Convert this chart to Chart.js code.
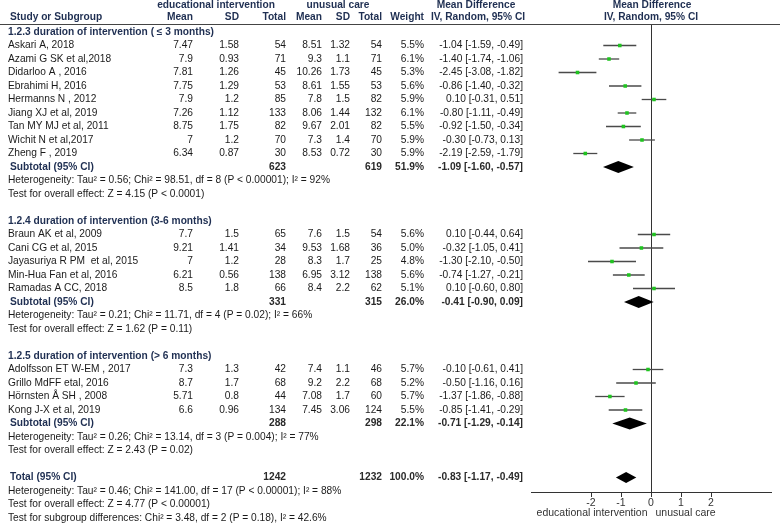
<!DOCTYPE html>
<html><head><meta charset="utf-8">
<script src="https://cdn.jsdelivr.net/npm/chart.js@4.4.0/dist/chart.umd.min.js"></script>
<style>html,body{margin:0;padding:0;background:#fff}#wrap{width:780px;height:526px}</style>
</head><body><div id="wrap"><canvas id="c" width="780" height="526"></canvas></div>
<script>
const studies = ["Askari A, 2018","Azami G SK et al,2018","Didarloo A , 2016","Ebrahimi H, 2016","Hermanns N , 2012","Jiang XJ et al, 2019","Tan MY MJ et al, 2011","Wichit N et al,2017","Zheng F , 2019","Braun AK et al, 2009","Cani CG et al, 2015","Jayasuriya R PM  et al, 2015","Min-Hua Fan et al, 2016","Ramadas A CC, 2018","Adolfsson ET W-EM , 2017","Grillo MdFF etal, 2016","Hörnsten Å SH , 2008","Kong J-X et al, 2019"];
const studyGroup = [0,0,0,0,0,0,0,0,0,1,1,1,1,1,2,2,2,2];
const eduMean = ["7.47","7.9","7.81","7.75","7.9","7.26","8.75","7","6.34","7.7","9.21","7","6.21","8.5","7.3","8.7","5.71","6.6"];
const eduSD = ["1.58","0.93","1.26","1.29","1.2","1.12","1.75","1.2","0.87","1.5","1.41","1.2","0.56","1.8","1.3","1.7","0.8","0.96"];
const eduN = [54,71,45,53,85,133,82,70,30,65,34,28,138,66,42,68,44,134];
const ctlMean = ["8.51","9.3","10.26","8.61","7.8","8.06","9.67","7.3","8.53","7.6","9.53","8.3","6.95","8.4","7.4","9.2","7.08","7.45"];
const ctlSD = ["1.32","1.1","1.73","1.55","1.5","1.44","2.01","1.4","0.72","1.5","1.68","1.7","3.12","2.2","1.1","2.2","1.7","3.06"];
const ctlN = [54,71,45,53,82,132,82,70,30,54,36,25,138,62,46,68,60,124];
const weight = ["5.5%","6.1%","5.3%","5.6%","5.9%","6.1%","5.5%","5.9%","5.9%","5.6%","5.0%","4.8%","5.6%","5.1%","5.7%","5.2%","5.7%","5.5%"];
const md = [-1.04,-1.40,-2.45,-0.86,0.10,-0.80,-0.92,-0.30,-2.19,0.10,-0.32,-1.30,-0.74,0.10,-0.10,-0.50,-1.37,-0.85];
const lo = [-1.59,-1.74,-3.08,-1.40,-0.31,-1.11,-1.50,-0.73,-2.59,-0.44,-1.05,-2.10,-1.27,-0.60,-0.61,-1.16,-1.86,-1.41];
const hi = [-0.49,-1.06,-1.82,-0.32,0.51,-0.49,-0.34,0.13,-1.79,0.64,0.41,-0.50,-0.21,0.80,0.41,0.16,-0.88,-0.29];

const groupTitles = ["1.2.3 duration of intervention ( \u2264 3 months)","1.2.4 duration of intervention (3-6 months)","1.2.5 duration of intervention (> 6 months)"];
const subEduN = [623,331,288];
const subCtlN = [619,315,298];
const subWeight = ["51.9%","26.0%","22.1%"];
const subMd = [-1.09,-0.41,-0.71];
const subLo = [-1.60,-0.90,-1.29];
const subHi = [-0.57,0.09,-0.14];
const subHet = ["Heterogeneity: Tau\u00b2 = 0.56; Chi\u00b2 = 98.51, df = 8 (P < 0.00001); I\u00b2 = 92%","Heterogeneity: Tau\u00b2 = 0.21; Chi\u00b2 = 11.71, df = 4 (P = 0.02); I\u00b2 = 66%","Heterogeneity: Tau\u00b2 = 0.26; Chi\u00b2 = 13.14, df = 3 (P = 0.004); I\u00b2 = 77%"];
const subTest = ["Test for overall effect: Z = 4.15 (P < 0.0001)","Test for overall effect: Z = 1.62 (P = 0.11)","Test for overall effect: Z = 2.43 (P = 0.02)"];
const totEduN = 1242, totCtlN = 1232, totWeight = "100.0%", totMd = -0.83, totLo = -1.17, totHi = -0.49;
const totNotes = ["Heterogeneity: Tau\u00b2 = 0.46; Chi\u00b2 = 141.00, df = 17 (P < 0.00001); I\u00b2 = 88%","Test for overall effect: Z = 4.77 (P < 0.00001)","Test for subgroup differences: Chi\u00b2 = 3.48, df = 2 (P = 0.18), I\u00b2 = 42.6%"];
const xTicks = [-2,-1,0,1,2];
const axisLeftLabel = "educational intervention", axisRightLabel = "unusual care";

// row layout
const studyRow = [], groupRow = [], subRow = [];
let r = 0;
for (let g = 0; g < 3; g++) {
  groupRow.push(r); r++;
  studies.forEach((s, i) => { if (studyGroup[i] === g) { studyRow[i] = r; r++; } });
  subRow.push(r); r += 4;
}
const totRow = r;

const f2 = v => (v < 0 ? "-" : "") + Math.abs(v).toFixed(2);
const ciText = (m, l, h) => f2(m) + " [" + f2(l) + ", " + f2(h) + "]";

const NORMAL = '10.2px "Liberation Sans", Arial, sans-serif';
const BOLD = 'bold 10.2px "Liberation Sans", Arial, sans-serif';
const TXT = '#1a1a1a', NAVY = '#1f2f52', BOLDNUM = '#2a2a2a';
const cols = {name: 8, eM: 193, eS: 239, eN: 286, cM: 322, cS: 350, cN: 382, w: 424, md: 523};

const datasets = [];
datasets.push({type: 'scatter', order: 0, data: studies.map((s, i) => ({x: md[i], y: studyRow[i]})), pointStyle: 'rect', pointRadius: 2.5, backgroundColor: '#1fc41f', borderColor: '#1fc41f', borderWidth: 0});
studies.forEach((s, i) => {
  datasets.push({type: 'line', order: 1, data: [{x: lo[i], y: studyRow[i]}, {x: hi[i], y: studyRow[i]}], borderColor: '#4a4a4a', borderWidth: 1.3, pointRadius: 0, showLine: true, fill: false});
});

const tablePlugin = {
  id: 'table',
  beforeDatasetsDraw(chart) {
    const ctx = chart.ctx, xs = chart.scales.x, ca = chart.chartArea;
    ctx.save();
    ctx.strokeStyle = '#333'; ctx.lineWidth = 1;
    const x0 = Math.round(xs.getPixelForValue(0)) + 0.5;
    ctx.beginPath(); ctx.moveTo(x0, ca.top); ctx.lineTo(x0, ca.bottom); ctx.stroke();
    ctx.restore();
  },
  afterDatasetsDraw(chart) {
    const ctx = chart.ctx, xs = chart.scales.x, ys = chart.scales.y;
    const ca = chart.chartArea;
    ctx.save();
    const x0 = Math.round(xs.getPixelForValue(0)) + 0.5;
    // diamonds
    const diamond = (m, l, h, row, hh) => {
      const y = ys.getPixelForValue(row);
      ctx.beginPath();
      ctx.moveTo(xs.getPixelForValue(l), y);
      ctx.lineTo(xs.getPixelForValue(m), y - hh);
      ctx.lineTo(xs.getPixelForValue(h), y);
      ctx.lineTo(xs.getPixelForValue(m), y + hh);
      ctx.closePath();
      ctx.fillStyle = '#000'; ctx.fill();
    };
    for (let g = 0; g < 3; g++) diamond(subMd[g], subLo[g], subHi[g], subRow[g], 6);
    diamond(totMd, totLo, totHi, totRow, 5.5);

    // header line
    const top = ys.getPixelForValue(0);
    ctx.strokeStyle = '#444'; ctx.lineWidth = 1;
    ctx.beginPath(); ctx.moveTo(0, Math.round(top - 8) + 0.5); ctx.lineTo(780, Math.round(top - 8) + 0.5); ctx.stroke();

    ctx.textBaseline = 'middle';
    const put = (t, x, y, align, font, color) => { ctx.font = font; ctx.textAlign = align; ctx.fillStyle = color; ctx.fillText(t, x, y); };
    const h1 = top - 27, h2 = top - 15;
    put("educational intervention", 216, h1, 'center', BOLD, NAVY);
    put("unusual care", 338, h1, 'center', BOLD, NAVY);
    put("Mean Difference", 476, h1, 'center', BOLD, NAVY);
    put("Mean Difference", 652, h1, 'center', BOLD, NAVY);
    put("Study or Subgroup", 10, h2, 'left', BOLD, NAVY);
    put("Mean", cols.eM, h2, 'right', BOLD, NAVY);
    put("SD", cols.eS, h2, 'right', BOLD, NAVY);
    put("Total", cols.eN, h2, 'right', BOLD, NAVY);
    put("Mean", cols.cM, h2, 'right', BOLD, NAVY);
    put("SD", cols.cS, h2, 'right', BOLD, NAVY);
    put("Total", cols.cN, h2, 'right', BOLD, NAVY);
    put("Weight", cols.w, h2, 'right', BOLD, NAVY);
    put("IV, Random, 95% CI", 478, h2, 'center', BOLD, NAVY);
    put("IV, Random, 95% CI", 651, h2, 'center', BOLD, NAVY);

    for (let g = 0; g < 3; g++) put(groupTitles[g], 8, ys.getPixelForValue(groupRow[g]), 'left', BOLD, NAVY);
    studies.forEach((s, i) => {
      const y = ys.getPixelForValue(studyRow[i]);
      put(s, cols.name, y, 'left', NORMAL, TXT);
      put(eduMean[i], cols.eM, y, 'right', NORMAL, TXT);
      put(eduSD[i], cols.eS, y, 'right', NORMAL, TXT);
      put(String(eduN[i]), cols.eN, y, 'right', NORMAL, TXT);
      put(ctlMean[i], cols.cM, y, 'right', NORMAL, TXT);
      put(ctlSD[i], cols.cS, y, 'right', NORMAL, TXT);
      put(String(ctlN[i]), cols.cN, y, 'right', NORMAL, TXT);
      put(weight[i], cols.w, y, 'right', NORMAL, TXT);
      put(ciText(md[i], lo[i], hi[i]), cols.md, y, 'right', NORMAL, TXT);
    });
    for (let g = 0; g < 3; g++) {
      const y = ys.getPixelForValue(subRow[g]);
      put("Subtotal (95% CI)", 10, y, 'left', BOLD, NAVY);
      put(String(subEduN[g]), cols.eN, y, 'right', BOLD, BOLDNUM);
      put(String(subCtlN[g]), cols.cN, y, 'right', BOLD, BOLDNUM);
      put(subWeight[g], cols.w, y, 'right', BOLD, BOLDNUM);
      put(ciText(subMd[g], subLo[g], subHi[g]), cols.md, y, 'right', BOLD, BOLDNUM);
      put(subHet[g], 8, ys.getPixelForValue(subRow[g] + 1), 'left', NORMAL, TXT);
      put(subTest[g], 8, ys.getPixelForValue(subRow[g] + 2), 'left', NORMAL, TXT);
    }
    const yt = ys.getPixelForValue(totRow);
    put("Total (95% CI)", 10, yt, 'left', BOLD, NAVY);
    put(String(totEduN), cols.eN, yt, 'right', BOLD, BOLDNUM);
    put(String(totCtlN), cols.cN, yt, 'right', BOLD, BOLDNUM);
    put(totWeight, cols.w, yt, 'right', BOLD, BOLDNUM);
    put(ciText(totMd, totLo, totHi), cols.md, yt, 'right', BOLD, BOLDNUM);
    totNotes.forEach((t, k) => put(t, 8, ys.getPixelForValue(totRow + 1 + k), 'left', NORMAL, TXT));

    // axis side labels
    const ya = ca.bottom + 21;
    put(axisLeftLabel, x0 - 4, ya, 'right', '10.5px "Liberation Sans", Arial, sans-serif', '#333');
    put(axisRightLabel, x0 + 4, ya, 'left', '10.5px "Liberation Sans", Arial, sans-serif', '#333');
    ctx.restore();
  }
};

new Chart(document.getElementById('c'), {
  type: 'scatter',
  data: {datasets},
  options: {
    responsive: false, animation: false, devicePixelRatio: 1,
    layout: {padding: {left: 531, right: 9, top: 25, bottom: 0}},
    plugins: {legend: {display: false}, tooltip: {enabled: false}},
    scales: {
      x: {
        type: 'linear', min: -4, max: 4,
        afterBuildTicks: s => { s.ticks = xTicks.map(v => ({value: v})); },
        afterFit: s => { s.height = 34; },
        grid: {drawOnChartArea: false, drawTicks: true, tickLength: 5, color: '#333'},
        border: {display: true, color: '#333', width: 1},
        ticks: {padding: 0, color: '#333', font: {family: '"Liberation Sans", Arial, sans-serif', size: 10.5}, callback: v => String(v)}
      },
      y: {type: 'linear', min: -0.5185, max: 34.074, reverse: true, display: false}
    }
  },
  plugins: [tablePlugin]
});
</script></body></html>
